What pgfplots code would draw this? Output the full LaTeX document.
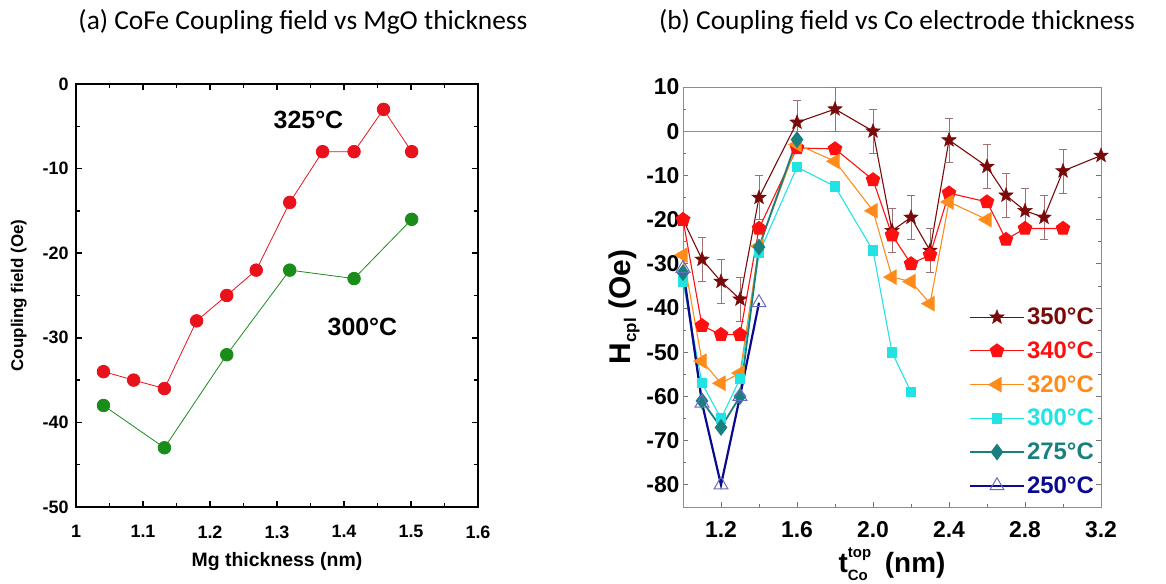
\documentclass[border=0pt]{standalone}
\usepackage{pgfplots}
\pgfplotsset{compat=1.18}
\usepackage{fontspec}
\setmainfont{Liberation Sans}
\newfontfamily\calibri{Carlito}
\definecolor{redA}{HTML}{E8121C}
\definecolor{greenA}{HTML}{1A8C1A}
\definecolor{c350}{HTML}{7A0A0A}
\definecolor{c340}{HTML}{FF1010}
\definecolor{c320}{HTML}{FF8C1A}
\definecolor{c300}{HTML}{22E3E3}
\definecolor{c275}{HTML}{1A7F7F}
\definecolor{c250}{HTML}{0A0A90}
\definecolor{c250m}{HTML}{6A6AC0}
\definecolor{errc}{HTML}{A07070}
\pgfdeclareplotmark{fstar}{%
  \pgfpathmoveto{\pgfpointpolar{90}{\pgfplotmarksize}}%
  \pgfpathlineto{\pgfpointpolar{126}{0.42\pgfplotmarksize}}%
  \pgfpathlineto{\pgfpointpolar{162}{\pgfplotmarksize}}%
  \pgfpathlineto{\pgfpointpolar{198}{0.42\pgfplotmarksize}}%
  \pgfpathlineto{\pgfpointpolar{234}{\pgfplotmarksize}}%
  \pgfpathlineto{\pgfpointpolar{270}{0.42\pgfplotmarksize}}%
  \pgfpathlineto{\pgfpointpolar{306}{\pgfplotmarksize}}%
  \pgfpathlineto{\pgfpointpolar{342}{0.42\pgfplotmarksize}}%
  \pgfpathlineto{\pgfpointpolar{18}{\pgfplotmarksize}}%
  \pgfpathlineto{\pgfpointpolar{54}{0.42\pgfplotmarksize}}%
  \pgfpathclose
  \pgfusepathqfillstroke}
\begin{document}
\begin{tikzpicture}
\useasboundingbox (0bp,0bp) rectangle (1166bp,584bp);
\node[font=\calibri\fontsize{27.5}{27.5}\selectfont] at (303bp,562bp) {(a) CoFe Coupling field vs MgO thickness};
\node[font=\calibri\fontsize{27.5}{27.5}\selectfont] at (897bp,562bp) {(b) Coupling field vs Co electrode thickness};

% ---------- left panel ----------
\begin{axis}[
  at={(76bp,77bp)}, anchor=south west, scale only axis,
  width=402bp, height=423bp,
  xmin=1, xmax=1.6, ymin=-50, ymax=0,
  xtick={1,1.1,1.2,1.3,1.4,1.5,1.6},
  ytick={-50,-40,-30,-20,-10,0},
  minor x tick num=1, minor y tick num=1,
  tick align=inside,
  major tick length=6bp, minor tick length=4bp,
  axis line style={line width=2bp},
  every tick/.style={black, line width=1.5bp},
  /pgf/number format/assume math mode=true,
  ticklabel style={font=\bfseries\fontsize{18}{18}\selectfont},
  xticklabel style={yshift=-15bp},
  yticklabel style={xshift=-4bp},
  xlabel={Mg thickness (nm)}, ylabel={Coupling field (Oe)},
  xlabel style={font=\bfseries\fontsize{19.5}{19.5}\selectfont, yshift=-7bp},
  ylabel style={font=\bfseries\fontsize{17}{17}\selectfont, yshift=9bp},
  clip=false,
]
\addplot[redA, line width=0.8bp, mark=*, mark size=6.3bp, mark options={fill=redA, draw=redA}]
coordinates {(1.041,-34) (1.086,-35) (1.132,-36) (1.180,-28) (1.225,-25) (1.269,-22) (1.319,-14) (1.368,-8) (1.415,-8) (1.459,-3) (1.501,-8)};
\addplot[greenA, line width=0.8bp, mark=*, mark size=6.3bp, mark options={fill=greenA, draw=greenA}]
coordinates {(1.041,-38) (1.132,-43) (1.225,-32) (1.319,-22) (1.415,-23) (1.501,-16)};
\node[font=\bfseries\fontsize{25}{25}\selectfont] at (axis cs:1.347,-4.2) {325°C};
\node[font=\bfseries\fontsize{25}{25}\selectfont] at (axis cs:1.4275,-28.7) {300°C};
\end{axis}

% ---------- right panel ----------
\begin{axis}[
  at={(683bp,77bp)}, anchor=south west, scale only axis,
  width=418bp, height=420bp,
  xmin=1, xmax=3.2, ymin=-85, ymax=10,
  xtick={1.2,1.6,2.0,2.4,2.8,3.2},
  minor xtick={1.0,1.4,1.8,2.2,2.6,3.0},
  ytick={-80,-70,-60,-50,-40,-30,-20,-10,0,10},
  minor y tick num=1,
  xtick pos=left, ytick pos=both,
  tick align=inside,
  major tick length=5bp, minor tick length=3bp,
  axis line style={black!45, line width=0.9bp},
  every tick/.style={black!55, line width=0.8bp},
  /pgf/number format/assume math mode=true,
  ticklabel style={font=\bfseries\fontsize{23}{23}\selectfont},
  xticklabel style={yshift=-11bp, /pgf/number format/.cd, fixed, fixed zerofill, precision=1},
  ylabel={H\raisebox{-0.35ex}{\fontsize{17}{17}\selectfont cpl} (Oe)},
  xlabel={t\makebox[0pt][l]{\raisebox{1.0ex}{\fontsize{15}{15}\selectfont top}}\raisebox{-0.55ex}{\fontsize{15}{15}\selectfont Co}\,\, (nm)},
  label style={font=\bfseries\fontsize{28}{28}\selectfont},
  ylabel style={font=\bfseries\fontsize{30}{30}\selectfont, xshift=-10bp},
  xlabel style={yshift=-3bp},
  legend image code/.code={\draw[mark repeat=2,mark phase=2] plot coordinates {(0bp,0bp) (27bp,0bp) (54bp,0bp)};},
  legend style={at={(1,0)}, anchor=south east, xshift=-5bp, yshift=10bp, draw=none, fill=none,
    font=\bfseries\fontsize{24}{24}\selectfont, row sep=11.5bp, inner sep=0pt,
    nodes={inner sep=2bp}},
  legend cell align=left,
  clip=false,
]
\addplot[black!45, line width=0.9bp, forget plot] coordinates {(1,0) (3.2,0)};
\addplot[c350, line width=1.1bp, mark=fstar, mark size=7.5bp,
  mark options={fill=c350, draw=c350, line width=0.5bp, solid},
  error bars/.cd, y dir=both, y explicit,
  error bar style={errc, line width=0.6bp},
  error mark options={rotate=90, mark size=4bp, errc, line width=0.6bp}]
coordinates {(1.0,-20) +- (0,0) (1.1,-29) +- (0,5) (1.2,-34) +- (0,5) (1.3,-38) +- (0,5) (1.4,-15) +- (0,5) (1.6,2) +- (0,5) (1.8,5) +- (0,5) (2.0,0) +- (0,5) (2.1,-22.5) +- (0,5) (2.2,-19.5) +- (0,5) (2.3,-27) +- (0,5) (2.4,-2) +- (0,5) (2.6,-8) +- (0,5) (2.7,-14.5) +- (0,5) (2.8,-18) +- (0,5) (2.9,-19.5) +- (0,5) (3.0,-9) +- (0,5) (3.2,-5.5) +- (0,0)};
\addlegendentry{\textcolor{c350}{350°C}}
\addplot[c340, line width=1.1bp, mark=pentagon*, mark size=7bp, mark options={fill=c340, draw=c340}]
coordinates {(1.0,-20) (1.1,-44) (1.2,-46) (1.3,-46) (1.4,-22) (1.6,-3.8) (1.8,-4) (2.0,-11) (2.1,-23.5) (2.2,-30) (2.3,-28) (2.4,-14) (2.6,-16) (2.7,-24.5) (2.8,-22) (3.0,-22)};
\addlegendentry{\textcolor{c340}{340°C}}
\addplot[c320, line width=1.1bp, mark=triangle*, mark size=8bp, mark options={fill=c320, draw=c320, rotate=90}]
coordinates {(1.0,-28) (1.1,-52) (1.2,-57) (1.3,-54.7) (1.4,-26) (1.6,-3) (1.8,-6.8) (2.0,-18) (2.1,-33) (2.2,-34) (2.3,-39) (2.4,-16) (2.6,-20)};
\addlegendentry{\textcolor{c320}{320°C}}
\addplot[c300, line width=1.1bp, mark=square*, mark size=4.7bp, mark options={fill=c300, draw=c300}]
coordinates {(1.0,-34) (1.1,-57) (1.2,-65) (1.3,-56) (1.4,-27.6) (1.6,-8.1) (1.8,-12.5) (2.0,-27) (2.1,-50) (2.2,-59)};
\addlegendentry{\textcolor{c300}{300°C}}
\addplot[c275, line width=1.8bp, mark=diamond*, mark size=7bp, mark options={fill=c275, draw=c275}]
coordinates {(1.0,-32) (1.1,-61) (1.2,-67) (1.3,-60) (1.4,-26.2) (1.6,-1.9)};
\addlegendentry{\textcolor{c275}{275°C}}
\addplot[c250, line width=2.2bp, mark=triangle, mark size=8bp, mark options={fill=white, draw=c250m, line width=1bp}]
coordinates {(1.0,-31) (1.1,-61.5) (1.2,-80) (1.3,-60) (1.4,-38.8)};
\addlegendentry{\textcolor{c250}{250°C}}
\end{axis}
\end{tikzpicture}
\end{document}
